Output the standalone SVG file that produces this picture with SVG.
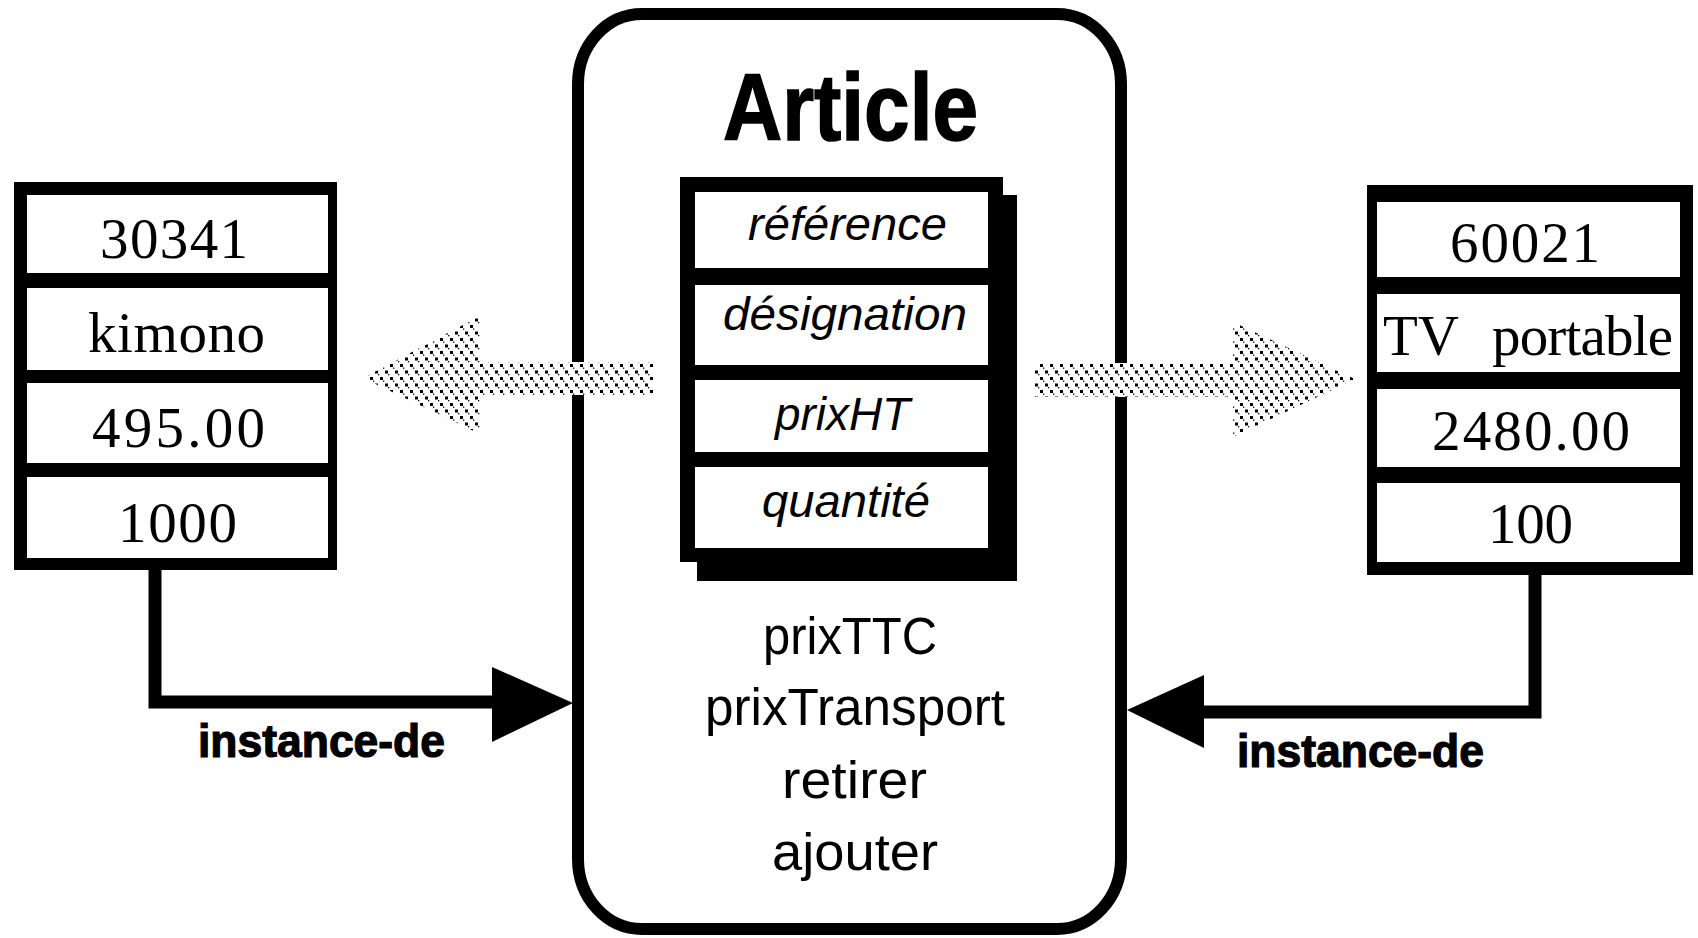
<svg xmlns="http://www.w3.org/2000/svg" width="1698" height="938" viewBox="0 0 1698 938">
  <style>
    .cell { fill: #fff; }
    .frame { fill: #000; }
    .val { font-family: "Liberation Serif", "Times New Roman", serif; font-size: 57px; fill: #000; }
    .attr { font-family: "Liberation Sans", Arial, sans-serif; font-size: 47px; font-style: italic; fill: #000; }
    .meth { font-family: "Liberation Sans", Arial, sans-serif; font-size: 51px; fill: #000; }
    .title { font-family: "Liberation Sans", Arial, sans-serif; font-size: 94px; font-weight: bold; fill: #000; stroke: #000; stroke-width: 1.5; }
    .lbl { font-family: "Liberation Sans", Arial, sans-serif; font-size: 46px; font-weight: bold; fill: #000; stroke: #000; stroke-width: 1.2; }
    .wire { fill: none; stroke: #000; stroke-width: 13; stroke-linecap: square; }
    .head { fill: #000; }
    .halo { fill: #fff; }
  </style>
  <defs>
    <!-- halftone screen used for the derivation arrows -->
    <pattern id="dots" width="10" height="13" patternUnits="userSpaceOnUse">
      <rect x="0" y="0" width="3" height="3" fill="#000"/>
      <rect x="5" y="6.5" width="3" height="3" fill="#000"/>
      <rect x="3" y="3.5" width="1.3" height="1.3" fill="#000"/>
      <rect x="8" y="10" width="1.3" height="1.3" fill="#000"/>
    </pattern>
  </defs>

  <rect width="1698" height="938" fill="#fff"/>

  <!-- class Article -->
  <g id="article">
    <rect x="578" y="14" width="543" height="915" rx="64" ry="70" fill="none" stroke="#000" stroke-width="12"/>
    <text class="title" x="723" y="140" textLength="255" lengthAdjust="spacingAndGlyphs">Article</text>
    <!-- attribute block with drop shadow -->
    <rect class="frame" x="697" y="195" width="320" height="386"/>
    <rect class="frame" x="680" y="177" width="323" height="385"/>
    <rect class="cell" x="695" y="192" width="293" height="76"/>
    <rect class="cell" x="695" y="285" width="293" height="80"/>
    <rect class="cell" x="695" y="380" width="293" height="72"/>
    <rect class="cell" x="695" y="467" width="293" height="81"/>
    <text class="attr" x="748" y="240" textLength="199" lengthAdjust="spacingAndGlyphs">référence</text>
    <text class="attr" x="723" y="330" textLength="244" lengthAdjust="spacingAndGlyphs">désignation</text>
    <text class="attr" x="775" y="430" textLength="135" lengthAdjust="spacingAndGlyphs">prixHT</text>
    <text class="attr" x="762" y="517" textLength="168" lengthAdjust="spacingAndGlyphs">quantité</text>
    <!-- methods -->
    <text class="meth" x="763" y="654" textLength="174" lengthAdjust="spacingAndGlyphs">prixTTC</text>
    <text class="meth" x="705" y="725" textLength="300" lengthAdjust="spacingAndGlyphs">prixTransport</text>
    <text class="meth" x="782" y="798" textLength="145" lengthAdjust="spacingAndGlyphs">retirer</text>
    <text class="meth" x="772" y="870" textLength="166" lengthAdjust="spacingAndGlyphs">ajouter</text>
  </g>

  <!-- instance 30341 -->
  <g id="kimono">
    <rect class="frame" x="14" y="182" width="323" height="388"/>
    <rect class="cell" x="27" y="195" width="301" height="78"/>
    <rect class="cell" x="27" y="288" width="301" height="82"/>
    <rect class="cell" x="27" y="383" width="301" height="80"/>
    <rect class="cell" x="27" y="477" width="301" height="81"/>
    <text class="val" x="100" y="258" textLength="148">30341</text>
    <text class="val" x="88" y="352" textLength="177">kimono</text>
    <text class="val" x="92" y="447" textLength="173">495.00</text>
    <text class="val" x="118" y="542" textLength="119">1000</text>
  </g>

  <!-- instance 60021 -->
  <g id="tv">
    <rect class="frame" x="1367" y="185" width="326" height="390"/>
    <rect class="cell" x="1377" y="202" width="303" height="75"/>
    <rect class="cell" x="1377" y="294" width="303" height="78"/>
    <rect class="cell" x="1377" y="389" width="303" height="78"/>
    <rect class="cell" x="1377" y="483" width="303" height="79"/>
    <text class="val" x="1450" y="262" textLength="150">60021</text>
    <text class="val" x="1383" y="355">TV <tspan x="1492" textLength="181">portable</tspan></text>
    <text class="val" x="1432" y="450" textLength="198">2480.00</text>
    <text class="val" x="1488" y="543" textLength="85">100</text>
  </g>

  <!-- connectors -->
  <g id="connectors">
    <!-- instance-de links -->
    <polyline class="wire" points="155,572 155,702 492,702"/>
    <polygon class="head" points="492,667 573,703 492,742"/>
    <text class="lbl" x="198" y="757" textLength="247" lengthAdjust="spacingAndGlyphs">instance-de</text>

    <polyline class="wire" points="1535,577 1535,712 1204,712"/>
    <polygon class="head" points="1204,675 1127,710 1204,748"/>
    <text class="lbl" x="1237" y="767" textLength="247" lengthAdjust="spacingAndGlyphs">instance-de</text>

    <!-- halftone derivation arrows -->
    <polygon class="halo" points="363,378 480,316 480,362 653,362 653,395 480,395 480,434"/>
    <polygon fill="url(#dots)" points="363,378 480,316 480,362 653,362 653,395 480,395 480,434"/>
    <polygon class="halo" points="1355,379 1233,322 1233,363 1035,363 1035,397 1233,397 1233,437"/>
    <polygon fill="url(#dots)" points="1355,379 1233,322 1233,363 1035,363 1035,397 1233,397 1233,437"/>
  </g>
</svg>
